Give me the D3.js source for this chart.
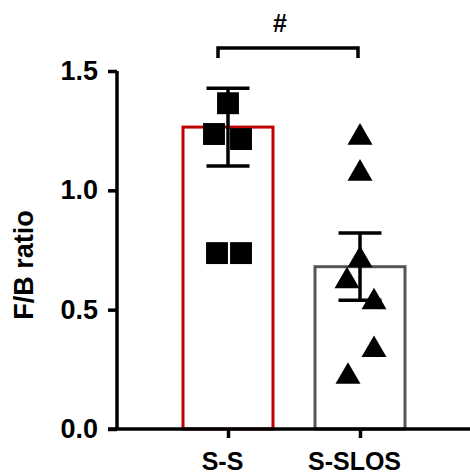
<!DOCTYPE html>
<html>
<head>
<meta charset="utf-8">
<script src="https://cdn.jsdelivr.net/npm/d3@7"></script>
<style>
html,body{margin:0;padding:0;background:#fff;}
svg{display:block;}
</style>
</head>
<body>
<svg id="chart" width="470" height="475"></svg>
<script>
const categories = ["S-S", "S-SLOS"];
const means = [1.265, 0.68];
const sems = [0.163, 0.141];
const ssPoints = [1.365, 1.236, 1.215, 0.737, 0.737];
const ssJitter = [0, -14, 13, -11, 13];
const slosPoints = [1.23, 1.079, 0.716, 0.628, 0.54, 0.34, 0.228];
const slosJitter = [0, 0, 0, -13, 14, 14, -12];
const yTicks = [0, 0.5, 1.0, 1.5];
const yLabel = "F/B ratio";
const sigLabel = "#";
const barColors = ["#c00000", "#555555"];

const svg = d3.select("#chart");
const font = "'Liberation Sans', Arial, sans-serif";

const y = d3.scaleLinear().domain([0, 1.5]).range([429, 71]);
const x = d3.scalePoint().domain(categories).range([228, 360]);
const barW = 90;

// bars
svg.selectAll("rect.bar").data(categories).enter().append("rect")
  .attr("x", d => x(d) - barW / 2)
  .attr("y", (d, i) => y(means[i]))
  .attr("width", barW)
  .attr("height", (d, i) => y(0) - y(means[i]))
  .attr("fill", "none")
  .attr("stroke", (d, i) => barColors[i])
  .attr("stroke-width", 3);

// error bars
const capW = 43;
categories.forEach((c, i) => {
  const g = svg.append("g").attr("stroke", "#000").attr("stroke-width", 3.5);
  g.append("line").attr("x1", x(c)).attr("x2", x(c))
    .attr("y1", y(means[i] + sems[i])).attr("y2", y(means[i] - sems[i]));
  g.append("line").attr("x1", x(c) - capW / 2).attr("x2", x(c) + capW / 2)
    .attr("y1", y(means[i] + sems[i])).attr("y2", y(means[i] + sems[i]));
  g.append("line").attr("x1", x(c) - capW / 2).attr("x2", x(c) + capW / 2)
    .attr("y1", y(means[i] - sems[i])).attr("y2", y(means[i] - sems[i]));
});

// points
const sq = d3.symbol().type(d3.symbolSquare).size(480);
svg.selectAll("path.sq").data(ssPoints).enter().append("path")
  .attr("d", sq)
  .attr("transform", (d, i) => `translate(${x("S-S") + ssJitter[i]},${y(d)})`)
  .attr("fill", "#000");
const tri = d3.symbol().type(d3.symbolTriangle).size(270);
svg.selectAll("path.tri").data(slosPoints).enter().append("path")
  .attr("d", tri)
  .attr("transform", (d, i) => `translate(${x("S-SLOS") + slosJitter[i]},${y(d) + 2})`)
  .attr("fill", "#000");

// y axis
const yAxis = d3.axisLeft(y).tickValues(yTicks).tickFormat(d3.format(".1f")).tickSize(9).tickPadding(10);
const gy = svg.append("g").attr("transform", "translate(117,0)").call(yAxis);
gy.select(".domain").attr("stroke-width", 3.5).attr("d", `M0,${y(1.5)}V${y(0)}`);
gy.selectAll(".tick line").attr("stroke-width", 3.5);
gy.selectAll(".tick text").attr("font-family", font).attr("font-weight", "bold")
  .attr("font-size", 27).attr("fill", "#000");

// x axis
const xAxis = d3.axisBottom(x).tickSize(9).tickPadding(14);
const gx = svg.append("g").attr("transform", `translate(0,${y(0)})`).call(xAxis);
gx.select(".domain").attr("stroke-width", 3.5).attr("d", "M108,0H470");
gx.selectAll(".tick line").attr("stroke-width", 3.5);
gx.selectAll(".tick text").attr("font-family", font).attr("font-weight", "bold")
  .attr("font-size", 25).attr("fill", "#000").attr("dx", -6);

// y label
svg.append("text")
  .attr("transform", "translate(33,265) rotate(-90)")
  .attr("text-anchor", "middle")
  .attr("font-family", font).attr("font-weight", "bold").attr("font-size", 27)
  .text(yLabel);

// significance bracket
const bx1 = 218, bx2 = 358, by = 48;
svg.append("path")
  .attr("d", `M${bx1},${by + 10}V${by}H${bx2}V${by + 10}`)
  .attr("fill", "none").attr("stroke", "#000").attr("stroke-width", 3.5);
svg.append("text")
  .attr("x", (x("S-S") + x("S-SLOS")) / 2 - 14).attr("y", 32)
  .attr("text-anchor", "middle")
  .attr("font-family", font).attr("font-weight", "bold").attr("font-size", 25)
  .text(sigLabel);
</script>
</body>
</html>
